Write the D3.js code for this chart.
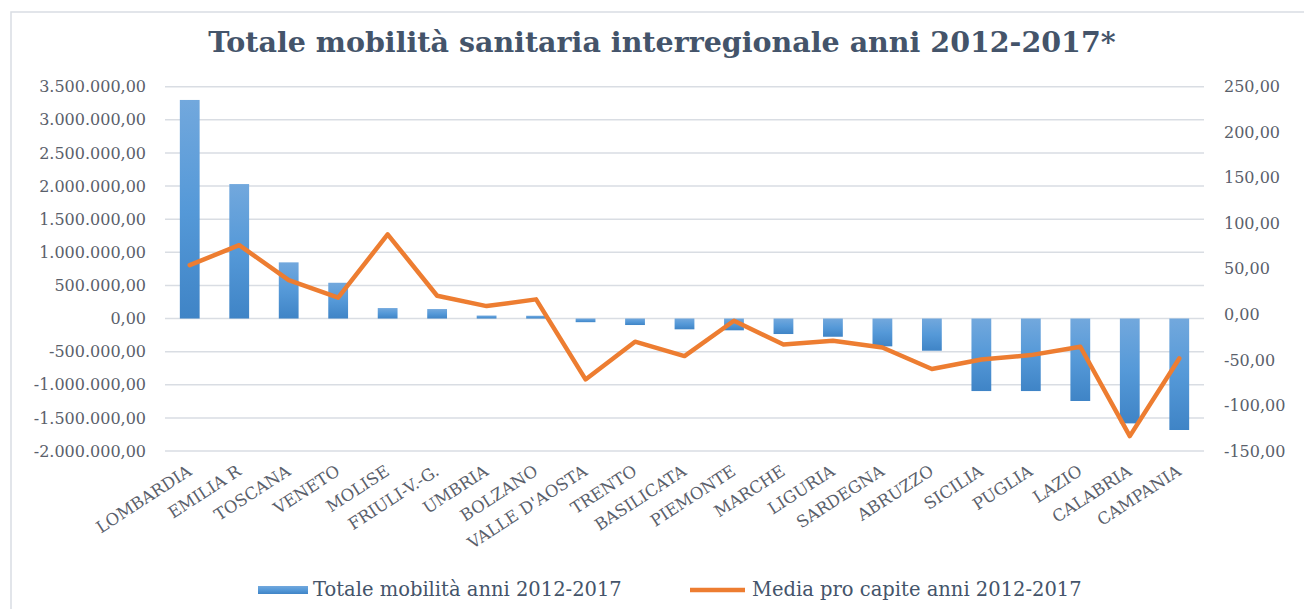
<!DOCTYPE html>
<html>
<head>
<meta charset="utf-8">
<script src="https://cdn.jsdelivr.net/npm/d3@7"></script>
<style>
  body { margin: 0; background: #fff; }
  svg { display: block; font-family: "DejaVu Serif", serif; }
</style>
</head>
<body>
<svg width="1304" height="609"></svg>
<script>
// Data
const regions = ['LOMBARDIA', 'EMILIA R', 'TOSCANA', 'VENETO', 'MOLISE', 'FRIULI-V.-G.', 'UMBRIA', 'BOLZANO',
  "VALLE D'AOSTA", 'TRENTO', 'BASILICATA', 'PIEMONTE', 'MARCHE', 'LIGURIA', 'SARDEGNA', 'ABRUZZO',
  'SICILIA', 'PUGLIA', 'LAZIO', 'CALABRIA', 'CAMPANIA']
const totale = [3300000, 2030000, 848000, 540000, 158000, 143000, 45000, 42000,
  -55000, -98000, -163000, -178000, -234000, -275000, -420000, -486000,
  -1095000, -1095000, -1245000, -1583000, -1683000]
const mediaProCapite = [54.1, 76.0, 37.7, 18.3, 87.9, 20.5, 9.1, 16.5,
  -71.4, -30.0, -45.8, -7.0, -33.0, -29.0, -36.3, -60.0,
  -49.5, -44.7, -35.5, -133.7, -48.4]
const leftTicks = [-2000000, -1500000, -1000000, -500000, 0, 500000, 1000000, 1500000, 2000000, 2500000, 3000000, 3500000]
const rightTicks = [-150, -100, -50, 0, 50, 100, 150, 200, 250]

const title = 'Totale mobilità sanitaria interregionale anni 2012-2017*'
const legendLabels = ['Totale mobilità anni 2012-2017', 'Media pro capite anni 2012-2017']

const data = regions.map((r, i) => ({region: r, tot: totale[i], media: mediaProCapite[i]}))

const svg = d3.select('svg')
const plot = {left: 165, right: 1204, top: 86.7, bottom: 451}

// Italian number format: 3.500.000,00
const it = d3.formatLocale({decimal: ',', thousands: '.', grouping: [3], currency: ['€', ''], minus: '-'})
const fmt = it.format(',.2f')

const x = d3.scaleBand()
  .domain(regions)
  .range([plot.left, plot.right])
  .paddingInner(0.6)
  .paddingOuter(0.3)
const yL = d3.scaleLinear().domain([-2000000, 3500000]).range([plot.bottom, plot.top])
const yR = d3.scaleLinear().domain([-150, 250]).range([plot.bottom, plot.top])

// frame
svg.append('rect')
  .attr('x', 11).attr('y', 12).attr('width', 1400).attr('height', 700)
  .attr('fill', 'none').attr('stroke', '#d9dde3').attr('stroke-width', 1.5)

// gradient for bars
const grad = svg.append('defs').append('linearGradient')
  .attr('id', 'barGrad').attr('x1', 0).attr('y1', 0).attr('x2', 0).attr('y2', 1)
grad.append('stop').attr('offset', '0%').attr('stop-color', '#72a8dd')
grad.append('stop').attr('offset', '50%').attr('stop-color', '#5599d8')
grad.append('stop').attr('offset', '100%').attr('stop-color', '#3f84c6')

// title
svg.append('text')
  .attr('x', 662).attr('y', 52)
  .attr('text-anchor', 'middle')
  .attr('font-size', 28.5).attr('font-weight', 'bold')
  .attr('fill', '#44546a')
  .text(title)

// gridlines
svg.append('g')
  .selectAll('line')
  .data(leftTicks)
  .join('line')
    .attr('x1', plot.left).attr('x2', plot.right)
    .attr('y1', d => yL(d)).attr('y2', d => yL(d))
    .attr('stroke', '#d9dde3').attr('stroke-width', 1.5)

// left axis
const axL = svg.append('g')
  .attr('transform', 'translate(' + (plot.left - 8) + ',0)')
  .call(d3.axisLeft(yL).tickValues(leftTicks).tickFormat(fmt).tickSize(0).tickPadding(11))
axL.select('.domain').remove()
axL.selectAll('text').attr('font-family', '"DejaVu Serif", serif').attr('font-size', 16).attr('fill', '#5a606b')

// right axis
const axR = svg.append('g')
  .attr('transform', 'translate(' + (plot.right + 8) + ',0)')
  .call(d3.axisRight(yR).tickValues(rightTicks).tickFormat(fmt).tickSize(0).tickPadding(12))
axR.select('.domain').remove()
axR.selectAll('text').attr('font-family', '"DejaVu Serif", serif').attr('font-size', 16).attr('fill', '#5a606b')

// bars
svg.append('g')
  .selectAll('rect')
  .data(data)
  .join('rect')
    .attr('x', d => x(d.region))
    .attr('width', x.bandwidth())
    .attr('y', d => yL(Math.max(0, d.tot)))
    .attr('height', d => Math.abs(yL(d.tot) - yL(0)))
    .attr('fill', 'url(#barGrad)')

// line
const line = d3.line()
  .x(d => x(d.region) + x.bandwidth() / 2)
  .y(d => yR(d.media))
svg.append('path')
  .datum(data)
  .attr('d', line)
  .attr('fill', 'none')
  .attr('stroke', '#ed7d31')
  .attr('stroke-width', 4.5)
  .attr('stroke-linejoin', 'round')
  .attr('stroke-linecap', 'round')

// x labels
svg.append('g')
  .selectAll('text')
  .data(data)
  .join('text')
    .attr('transform', d => 'translate(' + (x(d.region) + x.bandwidth() / 2 + 3) + ',' + 474 + ') rotate(-33)')
    .attr('text-anchor', 'end')
    .attr('font-size', 16.5)
    .attr('fill', '#5a606b')
    .text(d => d.region)

// legend
const leg = svg.append('g')
leg.append('rect')
  .attr('x', 258).attr('y', 586).attr('width', 50).attr('height', 8)
  .attr('fill', 'url(#barGrad)')
leg.append('text')
  .attr('x', 313).attr('y', 596)
  .attr('font-size', 19.5).attr('fill', '#44546a')
  .text(legendLabels[0])
leg.append('line')
  .attr('x1', 690).attr('x2', 745).attr('y1', 590).attr('y2', 590)
  .attr('stroke', '#ed7d31').attr('stroke-width', 4.5)
leg.append('text')
  .attr('x', 752).attr('y', 596)
  .attr('font-size', 19.5).attr('fill', '#44546a')
  .text(legendLabels[1])
</script>
</body>
</html>
